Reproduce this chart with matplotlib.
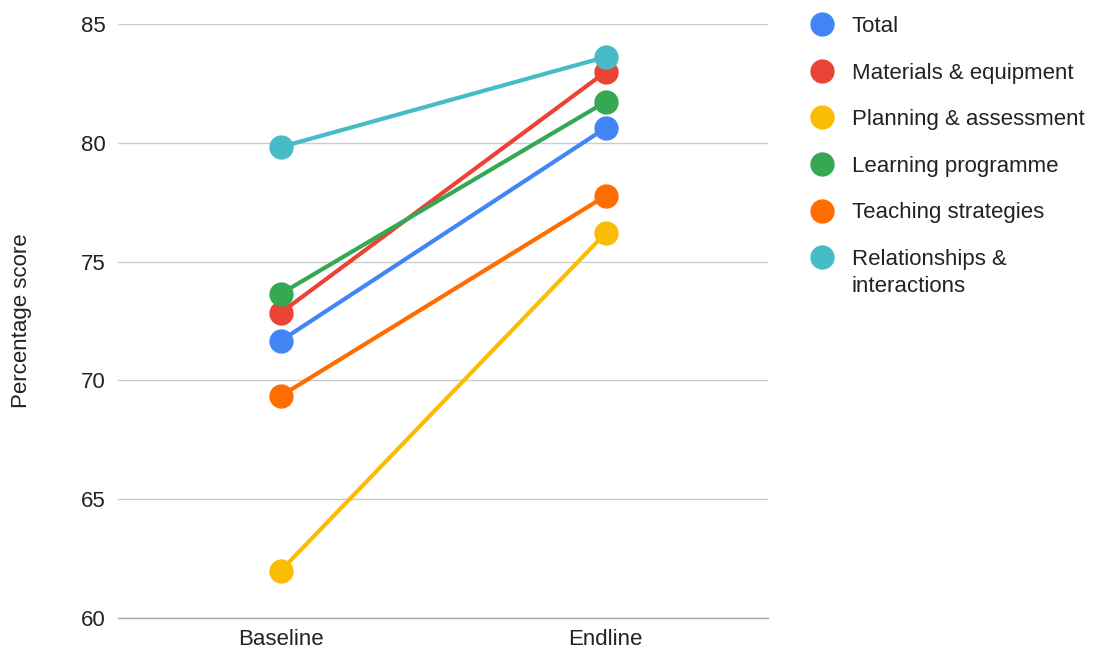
import matplotlib.pyplot as plt
from matplotlib.lines import Line2D

plt.rcParams['font.family'] = ['Liberation Sans', 'DejaVu Sans']

periods = ["Baseline", "Endline"]
series_names = [
    "Total",
    "Materials & equipment",
    "Planning & assessment",
    "Learning programme",
    "Teaching strategies",
    "Relationships & interactions",
]
baseline = [71.66, 72.84, 61.98, 73.64, 69.34, 79.82]
endline = [80.62, 82.98, 76.2, 81.72, 77.76, 83.61]
colors = ["#4285F4", "#EA4335", "#FBBC04", "#34A853", "#FF6D01", "#46BDC6"]
y_ticks = [60, 65, 70, 75, 80, 85]

fig = plt.figure(figsize=(10.93, 6.55), dpi=100)
ax = fig.add_axes([0.108, 0.0565, 0.5947, 0.9069])

x = list(range(len(periods)))
for name, b, e, c in zip(series_names, baseline, endline, colors):
    ax.plot(x, [b, e], color=c, linewidth=3, marker='o', markersize=16.5,
            solid_capstyle='round', zorder=3)

ax.set_xlim(-0.5, 1.5)
ax.set_ylim(60, 85)
ax.set_yticks(y_ticks)
ax.set_xticks(x)
ax.set_xticklabels(periods)
ax.grid(axis='y', color='#cccccc', linewidth=1)
ax.set_axisbelow(True)
for side in ['top', 'right', 'left']:
    ax.spines[side].set_visible(False)
ax.spines['bottom'].set_color('#aaaaaa')
ax.spines['bottom'].set_linewidth(1)
ax.tick_params(axis='both', length=0, labelsize=16, colors='#222222', pad=8)
ax.tick_params(axis='y', pad=9)
ax.set_ylabel("Percentage score", fontsize=16, color='#222222', labelpad=35)

# The last legend entry wraps after the ampersand, with the marker level
# with the first line of the label.
legend_labels = series_names[:-1] + ["Relationships &"]
handles = [Line2D([], [], linestyle='none', marker='o', markersize=16.5,
                  color=c) for c in colors]
leg = fig.legend(handles, legend_labels, loc='upper left',
                 bbox_to_anchor=(0.7233, 1.006), frameon=False, fontsize=16,
                 handletextpad=0.85, labelspacing=1.15, handlelength=1.0,
                 labelcolor='#222222', borderaxespad=0.5)

fig.canvas.draw()
last = leg.get_texts()[-1]
bbox = last.get_window_extent().transformed(fig.transFigure.inverted())
fig.text(bbox.x0, bbox.y0 - 27 / 655, "interactions", fontsize=16,
         color='#222222', ha='left', va='bottom')

fig.savefig("out.png", dpi=100)
